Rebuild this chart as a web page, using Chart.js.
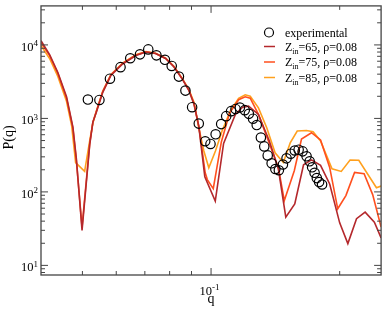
<!DOCTYPE html>
<html>
<head>
<meta charset="utf-8">
<script src="https://cdn.jsdelivr.net/npm/chart.js@4.4.1/dist/chart.umd.min.js"></script>
<style>
  html, body { margin: 0; padding: 0; background: #fff; }
</style>
</head>
<body>
<canvas id="chart" width="387" height="310"></canvas>
<script>
// experimental data
const qExp = [0.0515, 0.0548, 0.0580, 0.0614, 0.0647, 0.0682, 0.0713, 0.0745, 0.0780, 0.0809,
  0.0841, 0.0871, 0.0903, 0.0936, 0.0969, 0.0997, 0.1025, 0.1056, 0.1085, 0.1114,
  0.1141, 0.1168, 0.1199, 0.1226, 0.1254, 0.1279, 0.1308, 0.1332, 0.1357, 0.1386,
  0.1414, 0.1441, 0.1473, 0.1502, 0.1536, 0.1570, 0.1603, 0.1638, 0.1673, 0.1701,
  0.1724, 0.1747, 0.1768, 0.1790, 0.1819];
const pExp = [1806, 1784, 3471, 4982, 6590, 7438, 8694, 7213, 6271, 5171,
  3706, 2390, 1421, 850, 489, 449, 608, 837, 1074, 1255,
  1344, 1408, 1295, 1154, 991, 812, 550, 416, 314, 245,
  205, 197, 236, 286, 331, 366, 375, 356, 305, 261,
  216, 182, 154, 136, 126];

// modell Z_in=65
const q65 = [0.04, 0.0419, 0.0438, 0.0459, 0.0475, 0.0484, 0.0499, 0.0520, 0.0529, 0.0539,
  0.0558, 0.0583, 0.0621, 0.0667, 0.0704, 0.0742, 0.0783, 0.0819, 0.0856, 0.0887,
  0.0912, 0.0936, 0.0967, 0.1023, 0.1070, 0.1140, 0.1185, 0.1224, 0.1291, 0.1369,
  0.1437, 0.1496, 0.1570, 0.1646, 0.1718, 0.1804, 0.1895, 0.2000, 0.2090, 0.2190,
  0.2294, 0.2411, 0.25];
const p65 = [11430, 7394, 4223, 1971, 763, 282, 30, 436, 891, 1216,
  2266, 3847, 5502, 7167, 7993, 7628, 6530, 5012, 3449, 2412,
  1561, 787, 161, 75.1, 456, 1133, 1421, 1466, 1133, 493,
  206, 45.4, 68.8, 234, 273, 230, 128, 37.9, 19.8, 43.2,
  53, 38.8, 23.7];

// modell Z_in=75
const q75 = [0.04, 0.0419, 0.0438, 0.0459, 0.0475, 0.0484, 0.0499, 0.0520, 0.0529, 0.0539,
  0.0558, 0.0583, 0.0621, 0.0667, 0.0704, 0.0742, 0.0783, 0.0819, 0.0856, 0.0887,
  0.0912, 0.0936, 0.0969, 0.0980, 0.1012, 0.1057, 0.1105, 0.1160, 0.1202, 0.1235,
  0.1291, 0.1362, 0.1437, 0.1484, 0.1566, 0.1628, 0.1718, 0.1804, 0.1895, 0.1979,
  0.2068, 0.2167, 0.2281, 0.2389, 0.25];
const p75 = [10740, 7167, 4094, 1881, 740, 265, 33.2, 449, 891, 1255,
  2338, 3932, 5588, 7281, 8044, 7628, 6530, 5091, 3471, 2450,
  1609, 787, 182, 147, 111, 478, 1179, 1795, 1971, 1881,
  1133, 493, 215, 76.3, 194, 525, 639, 509, 215, 58.9,
  89.1, 184, 177, 91.9, 33.2];

// modell Z_in=85
const q85 = [0.04, 0.0419, 0.0438, 0.0459, 0.0472, 0.0482, 0.0506, 0.0520, 0.0529, 0.0539,
  0.0558, 0.0583, 0.0621, 0.0667, 0.0704, 0.0742, 0.0783, 0.0819, 0.0856, 0.0887,
  0.0912, 0.0936, 0.0962, 0.0988, 0.1024, 0.1061, 0.1109, 0.1160, 0.1202, 0.1235,
  0.1291, 0.1350, 0.1412, 0.1476, 0.1532, 0.1591, 0.1672, 0.1733, 0.1804, 0.1919,
  0.2017, 0.2115, 0.2217, 0.2438, 0.25];
const p85 = [9784, 6530, 3729, 1713, 787, 251, 190, 493, 864, 1255,
  2338, 3932, 5641, 7326, 8120, 7700, 6590, 5091, 3504, 2489,
  1661, 746, 361, 213, 361, 674, 1255, 1881, 2097, 2001,
  1391, 746, 340, 251, 464, 674, 684, 659, 493, 206,
  190, 271, 269, 114, 120];

// Achsen und Ticks
const xRange = [0.04, 0.25];
const yRange = [7.4, 33960];
const xMajor = [0.1];
const xMajorExp = ['-1'];
const xMinor = [0.05, 0.06, 0.07, 0.08, 0.09, 0.2];
const yMajor = [10, 100, 1000, 10000];
const yMajorExp = ['1', '2', '3', '4'];
const yMinor = [8, 9, 20, 30, 40, 50, 60, 70, 80, 90, 200, 300, 400, 500, 600, 700, 800, 900,
  2000, 3000, 4000, 5000, 6000, 7000, 8000, 9000, 20000, 30000];

// Legende
const zValues = ['65', '75', '85'];
const rhoValue = '0.08';
const lineColors = ['#b4282c', '#ff4f1e', '#ffa01e'];

const serif = '"Liberation Serif", "DejaVu Serif", serif';

function toXY(qs, ps) {
    return qs.map((q, i) => ({ x: q, y: ps[i] }));
}

// Rahmen, Ticks nach innen, Beschriftung und Legende
const framePlugin = {
    id: 'frame',
    afterDatasetsDraw(chart) {
        const { ctx, chartArea: a, scales: { x, y } } = chart;
        ctx.save();
        ctx.strokeStyle = '#444';
        ctx.lineWidth = 1.3;
        ctx.strokeRect(a.left, a.top, a.right - a.left, a.bottom - a.top);

        const seg = (x1, y1, x2, y2) => {
            ctx.beginPath(); ctx.moveTo(x1, y1); ctx.lineTo(x2, y2); ctx.stroke();
        };
        const xTick = (v, len) => {
            const px = x.getPixelForValue(v);
            seg(px, a.bottom, px, a.bottom - len);
            seg(px, a.top, px, a.top + len);
        };
        const yTick = (v, len) => {
            const py = y.getPixelForValue(v);
            seg(a.left, py, a.left + len, py);
            seg(a.right, py, a.right - len, py);
        };
        ctx.lineWidth = 1;
        xMajor.forEach(v => xTick(v, 7));
        xMinor.forEach(v => xTick(v, 4));
        yMajor.forEach(v => yTick(v, 7));
        yMinor.forEach(v => yTick(v, 4));

        ctx.fillStyle = '#000';
        ctx.textBaseline = 'alphabetic';
        // y-Beschriftung
        yMajor.forEach((v, i) => {
            const py = y.getPixelForValue(v);
            ctx.font = '9px ' + serif;
            const we = ctx.measureText(yMajorExp[i]).width;
            ctx.textAlign = 'left';
            const right = a.left - 3;
            ctx.fillText(yMajorExp[i], right - we, py + 1.5);
            ctx.font = '12.5px ' + serif;
            ctx.textAlign = 'right';
            ctx.fillText('10', right - we, py + 6);
        });
        // x-Beschriftung
        xMajor.forEach((v, i) => {
            const px = x.getPixelForValue(v);
            ctx.font = '12.5px ' + serif;
            ctx.textAlign = 'right';
            ctx.fillText('10', px + 1, a.bottom + 20);
            ctx.font = '9px ' + serif;
            ctx.textAlign = 'left';
            ctx.fillText(xMajorExp[i], px + 1, a.bottom + 15);
        });
        // Achsentitel
        ctx.font = '14px ' + serif;
        ctx.textAlign = 'center';
        ctx.fillText('q', x.getPixelForValue(0.1), a.bottom + 28);
        ctx.save();
        ctx.translate(13, (a.top + a.bottom) / 2 - 3);
        ctx.rotate(-Math.PI / 2);
        ctx.fillText('P(q)', 0, 0);
        ctx.restore();

        // Legende
        const lx = 264, tx = 285;
        const rows = [32.5, 46.5, 62, 77.5];
        ctx.strokeStyle = '#000';
        ctx.lineWidth = 1.2;
        ctx.beginPath(); ctx.arc(269, rows[0], 4.5, 0, Math.PI * 2); ctx.stroke();
        ctx.textAlign = 'left';
        ctx.font = '12px ' + serif;
        ctx.fillText('experimental', tx, rows[0] + 4);
        zValues.forEach((z, i) => {
            const ry = rows[i + 1];
            ctx.strokeStyle = lineColors[i];
            ctx.lineWidth = 1.5;
            seg(lx, ry, lx + 11, ry);
            let cx = tx;
            ctx.font = '12px ' + serif;
            ctx.fillText('Z', cx, ry + 4);
            cx += ctx.measureText('Z').width;
            ctx.font = '8px ' + serif;
            ctx.fillText('in', cx, ry + 7);
            cx += ctx.measureText('in').width;
            ctx.font = '12px ' + serif;
            ctx.fillText('=' + z + ', \u03c1=' + rhoValue, cx, ry + 4);
        });
        ctx.restore();
    }
};

const ctx = document.getElementById('chart').getContext('2d');
new Chart(ctx, {
    type: 'scatter',
    data: {
        datasets: [
            {
                label: 'experimental',
                data: toXY(qExp, pExp),
                showLine: false,
                pointStyle: 'circle',
                pointRadius: 4.7,
                pointBorderWidth: 1.2,
                borderColor: '#000',
                backgroundColor: 'rgba(0,0,0,0)'
            },
            ...zValues.map((z, i) => ({
                label: 'Z_in=' + z + ', \u03c1=' + rhoValue,
                data: toXY([q65, q75, q85][i], [p65, p75, p85][i]),
                showLine: true,
                borderColor: lineColors[i],
                borderWidth: 1.6,
                pointRadius: 0,
                tension: 0
            }))
        ]
    },
    options: {
        responsive: false,
        animation: false,
        layout: { padding: { left: 41, top: 4, right: 3, bottom: 35 } },
        scales: {
            x: { type: 'logarithmic', min: xRange[0], max: xRange[1], display: false },
            y: { type: 'logarithmic', min: yRange[0], max: yRange[1], display: false }
        },
        plugins: { legend: { display: false }, tooltip: { enabled: false } }
    },
    plugins: [framePlugin]
});
</script>
</body>
</html>
